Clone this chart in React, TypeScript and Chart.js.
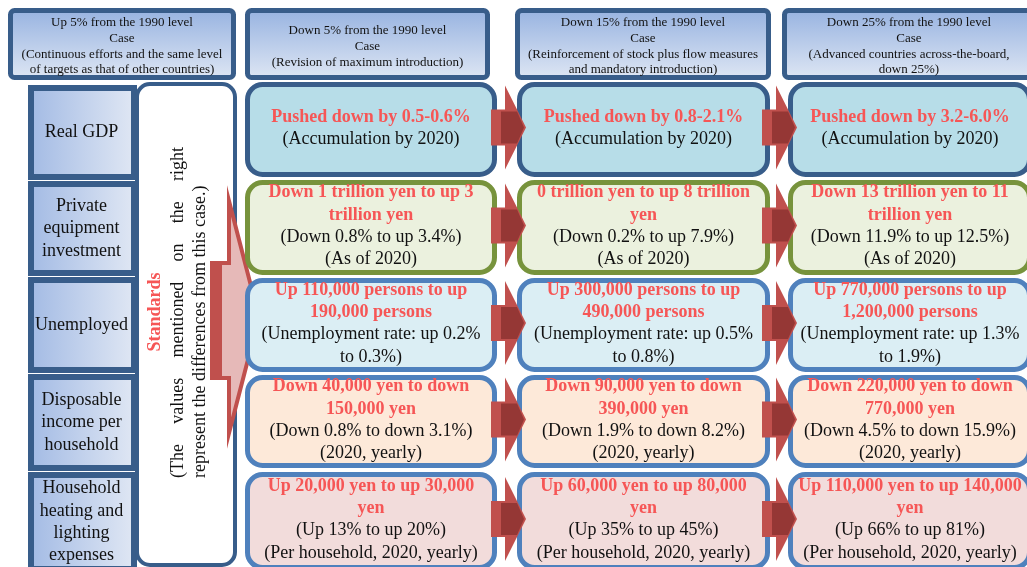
import React, { useEffect, useRef } from "react";
import { Chart, registerables } from "chart.js";

Chart.register(...registerables);

// ---- content ----
const headerTexts: string[][] = [
  ["Up 5% from the 1990 level", "Case", "(Continuous efforts and the same level", "of targets as that of other countries)"],
  ["Down 5% from the 1990 level", "Case", "(Revision of maximum introduction)"],
  ["Down 15% from the 1990 level", "Case", "(Reinforcement of stock plus flow measures", "and mandatory introduction)"],
  ["Down 25% from the 1990 level", "Case", "(Advanced countries across-the-board,", "down 25%)"],
];

const rowLabels: string[][] = [
  ["Real GDP"],
  ["Private", "equipment", "investment"],
  ["Unemployed"],
  ["Disposable", "income per", "household"],
  ["Household", "heating and", "lighting", "expenses"],
];

const standardsTitle = "Standards";
const standardsLine2 = ["(The", "values", "mentioned", "on", "the", "right"];
const standardsLine3 = "represent the differences from this case.)";

// red (bold) lines per row, per case column
const redTexts: string[][][] = [
  [["Pushed down by 0.5-0.6%"], ["Pushed down by 0.8-2.1%"], ["Pushed down by 3.2-6.0%"]],
  [["Down 1 trillion yen to up 3", "trillion yen"], ["0 trillion yen to up 8 trillion", "yen"], ["Down 13 trillion yen to 11", "trillion yen"]],
  [["Up 110,000 persons to up", "190,000 persons"], ["Up 300,000 persons to up", "490,000 persons"], ["Up 770,000 persons to up", "1,200,000 persons"]],
  [["Down 40,000 yen to down", "150,000 yen"], ["Down 90,000 yen to down", "390,000 yen"], ["Down 220,000 yen to down", "770,000 yen"]],
  [["Up 20,000 yen to up 30,000", "yen"], ["Up 60,000 yen to up 80,000", "yen"], ["Up 110,000 yen to up 140,000", "yen"]],
];

// black lines per row, per case column
const blackTexts: string[][][] = [
  [["(Accumulation by 2020)"], ["(Accumulation by 2020)"], ["(Accumulation by 2020)"]],
  [["(Down 0.8% to up 3.4%)", "(As of 2020)"], ["(Down 0.2% to up 7.9%)", "(As of 2020)"], ["(Down 11.9% to up 12.5%)", "(As of 2020)"]],
  [["(Unemployment rate: up 0.2%", "to 0.3%)"], ["(Unemployment rate: up 0.5%", "to 0.8%)"], ["(Unemployment rate: up 1.3%", "to 1.9%)"]],
  [["(Down 0.8% to down 3.1%)", "(2020, yearly)"], ["(Down 1.9% to down 8.2%)", "(2020, yearly)"], ["(Down 4.5% to down 15.9%)", "(2020, yearly)"]],
  [["(Up 13% to up 20%)", "(Per household, 2020, yearly)"], ["(Up 35% to up 45%)", "(Per household, 2020, yearly)"], ["(Up 66% to up 81%)", "(Per household, 2020, yearly)"]],
];

// ---- layout (in scale units) ----
const headerX: number[][] = [[8, 236], [245, 490], [515, 771], [782, 1036]];
const headerY = [8, 80];
const labelX = [28, 137];
const labelRowsY: number[][] = [[85, 180], [181, 276], [277, 373], [374, 471], [472, 572]];
const resultColsX: number[][] = [[245, 497], [517, 770], [788, 1032]];
const resultRowsY: number[][] = [[82, 177], [180, 275], [278, 372], [375, 468], [472, 570]];
const rowFills = ["#b7dde8", "#ebf1de", "#dbeef4", "#fde9d9", "#f2dcdb"];
const rowBorders = ["#385d8a", "#77933c", "#4f81bd", "#4f81bd", "#4f81bd"];
const arrowLeftX = [491, 762];

const SERIF = '"Liberation Serif", "Times New Roman", serif';
const RED = "#f65656";
const DARK = "#385d8a";

function rr(ctx: CanvasRenderingContext2D, x: number, y: number, w: number, h: number, r: number) {
  ctx.beginPath();
  ctx.moveTo(x + r, y);
  ctx.lineTo(x + w - r, y);
  ctx.arcTo(x + w, y, x + w, y + r, r);
  ctx.lineTo(x + w, y + h - r);
  ctx.arcTo(x + w, y + h, x + w - r, y + h, r);
  ctx.lineTo(x + r, y + h);
  ctx.arcTo(x, y + h, x, y + h - r, r);
  ctx.lineTo(x, y + r);
  ctx.arcTo(x, y, x + r, y, r);
  ctx.closePath();
}

const diagramPlugin = {
  id: "diagram",
  afterDraw(chart: any) {
    const ctx: CanvasRenderingContext2D = chart.ctx;
    const xs = chart.scales.x;
    const ys = chart.scales.y;
    const X = (v: number) => xs.getPixelForValue(v);
    const Y = (v: number) => ys.getPixelForValue(v);
    ctx.save();

    // headers
    headerX.forEach((hx, i) => {
      const x0 = X(hx[0]), x1 = X(hx[1]), y0 = Y(headerY[0]), y1 = Y(headerY[1]);
      const g = ctx.createLinearGradient(0, y0, 0, y1);
      g.addColorStop(0, "#96b2e0");
      g.addColorStop(1, "#dfe7f4");
      rr(ctx, x0 + 2.5, y0 + 2.5, x1 - x0 - 5, y1 - y0 - 5, 4);
      ctx.fillStyle = g;
      ctx.fill();
      ctx.lineWidth = 5;
      ctx.strokeStyle = DARK;
      ctx.stroke();
      const lines = headerTexts[i];
      const cx = (x0 + x1) / 2;
      const cy = Y(46.5);
      const lh = 15.7;
      ctx.fillStyle = "#111";
      ctx.font = `13px ${SERIF}`;
      ctx.textAlign = "center";
      ctx.textBaseline = "middle";
      lines.forEach((t, k) => {
        ctx.fillText(t, cx, cy + (k - (lines.length - 1) / 2) * lh);
      });
    });

    // row labels
    labelRowsY.forEach((ry, i) => {
      const x0 = X(labelX[0]), x1 = X(labelX[1]), y0 = Y(ry[0]), y1 = Y(ry[1]);
      const g = ctx.createLinearGradient(x0, 0, x1, 0);
      g.addColorStop(0, "#a2bae4");
      g.addColorStop(1, "#e1e8f4");
      ctx.fillStyle = g;
      ctx.fillRect(x0 + 3, y0 + 3, x1 - x0 - 6, y1 - y0 - 6);
      ctx.lineWidth = 6;
      ctx.strokeStyle = DARK;
      ctx.strokeRect(x0 + 3, y0 + 3, x1 - x0 - 6, y1 - y0 - 6);
      const lines = rowLabels[i];
      const cx = (x0 + x1) / 2 - 1;
      const cy = (y0 + y1) / 2;
      ctx.fillStyle = "#111";
      ctx.font = `18px ${SERIF}`;
      ctx.textAlign = "center";
      ctx.textBaseline = "middle";
      lines.forEach((t, k) => {
        ctx.fillText(t, cx, cy + (k - (lines.length - 1) / 2) * 22.3);
      });
    });

    // standards box
    {
      const x0 = X(135), x1 = X(237), y0 = Y(82), y1 = Y(567);
      rr(ctx, x0 + 2, y0 + 2, x1 - x0 - 4, y1 - y0 - 4, 13);
      ctx.fillStyle = "#ffffff";
      ctx.fill();
      ctx.lineWidth = 4;
      ctx.strokeStyle = DARK;
      ctx.stroke();
    }

    // big arrow
    {
      ctx.beginPath();
      ctx.moveTo(X(212), Y(263));
      ctx.lineTo(X(229), Y(263));
      ctx.lineTo(X(229), Y(201));
      ctx.lineTo(X(259), Y(317));
      ctx.lineTo(X(229), Y(433));
      ctx.lineTo(X(229), Y(378));
      ctx.lineTo(X(212), Y(378));
      ctx.closePath();
      ctx.fillStyle = "#e6b9b8";
      ctx.fill();
      ctx.lineWidth = 4;
      ctx.lineJoin = "miter";
      ctx.strokeStyle = "#c0504d";
      ctx.stroke();
      ctx.fillStyle = "#c0504d";
      ctx.fillRect(X(212), Y(263), X(222) - X(212), Y(378) - Y(263));
    }

    // standards text (rotated)
    {
      const cx = X(155), cy = Y(312);
      ctx.save();
      ctx.translate(cx, cy);
      ctx.rotate(-Math.PI / 2);
      ctx.textBaseline = "middle";
      ctx.textAlign = "center";
      ctx.fillStyle = RED;
      ctx.font = `bold 18px ${SERIF}`;
      ctx.fillText(standardsTitle, 0, 0);
      ctx.fillStyle = "#111";
      ctx.font = `18px ${SERIF}`;
      const left = -(Y(478) - cy);
      const right = cy - Y(147);
      const widths = standardsLine2.map((w) => ctx.measureText(w).width);
      const total = widths.reduce((a, b) => a + b, 0);
      const gap = (right - left - total) / (standardsLine2.length - 1);
      let px = left;
      ctx.textAlign = "left";
      standardsLine2.forEach((w, k) => {
        ctx.fillText(w, px, X(178) - cx);
        px += widths[k] + gap;
      });
      ctx.fillText(standardsLine3, left, X(200) - cx);
      ctx.restore();
    }

    // result boxes
    resultRowsY.forEach((ry, r) => {
      resultColsX.forEach((cxr, c) => {
        const x0 = X(cxr[0]), x1 = X(cxr[1]), y0 = Y(ry[0]), y1 = Y(ry[1]);
        rr(ctx, x0 + 2.5, y0 + 2.5, x1 - x0 - 5, y1 - y0 - 5, 15);
        ctx.fillStyle = rowFills[r];
        ctx.fill();
        ctx.lineWidth = 5;
        ctx.strokeStyle = rowBorders[r];
        ctx.stroke();
      });
    });

    // small arrows
    resultRowsY.forEach((ry) => {
      const cyv = (ry[0] + ry[1]) / 2 - 2;
      arrowLeftX.forEach((xl) => {
        ctx.beginPath();
        ctx.moveTo(X(xl), Y(cyv - 18));
        ctx.lineTo(X(xl + 14), Y(cyv - 18));
        ctx.lineTo(X(xl + 14), Y(cyv - 42));
        ctx.lineTo(X(xl + 35), Y(cyv));
        ctx.lineTo(X(xl + 14), Y(cyv + 42));
        ctx.lineTo(X(xl + 14), Y(cyv + 18));
        ctx.lineTo(X(xl), Y(cyv + 18));
        ctx.closePath();
        ctx.fillStyle = "#c0504d";
        ctx.fill();
        ctx.beginPath();
        ctx.moveTo(X(xl + 10), Y(cyv - 16));
        ctx.lineTo(X(xl + 26), Y(cyv - 16));
        ctx.lineTo(X(xl + 33), Y(cyv));
        ctx.lineTo(X(xl + 26), Y(cyv + 16));
        ctx.lineTo(X(xl + 10), Y(cyv + 16));
        ctx.closePath();
        ctx.fillStyle = "#953735";
        ctx.fill();
      });
    });

    // result texts
    resultRowsY.forEach((ry, r) => {
      resultColsX.forEach((cxr, c) => {
        const reds = redTexts[r][c];
        const blacks = blackTexts[r][c];
        const n = reds.length + blacks.length;
        const lh = 22.3;
        const cx = (X(cxr[0]) + X(cxr[1])) / 2;
        const cy = (Y(ry[0]) + Y(ry[1])) / 2 - 1.5;
        ctx.textAlign = "center";
        ctx.textBaseline = "middle";
        let k = 0;
        reds.forEach((t) => {
          ctx.fillStyle = RED;
          ctx.font = `bold 18px ${SERIF}`;
          ctx.fillText(t, cx, cy + (k - (n - 1) / 2) * lh);
          k++;
        });
        blacks.forEach((t) => {
          ctx.fillStyle = "#111";
          ctx.font = `18px ${SERIF}`;
          ctx.fillText(t, cx, cy + (k - (n - 1) / 2) * lh);
          k++;
        });
      });
    });

    ctx.restore();
  },
};

export default function App() {
  const ref = useRef<HTMLCanvasElement | null>(null);
  useEffect(() => {
    if (!ref.current) return;
    const chart = new Chart(ref.current, {
      type: "scatter",
      data: { datasets: [{ data: [] }] },
      options: {
        responsive: false,
        animation: false,
        devicePixelRatio: 1,
        layout: { padding: 0 },
        plugins: { legend: { display: false }, tooltip: { enabled: false } },
        scales: {
          x: { type: "linear", min: 0, max: 1027, display: false },
          y: { type: "linear", min: 0, max: 567, reverse: true, display: false },
        },
      },
      plugins: [diagramPlugin],
    } as any);
    return () => chart.destroy();
  }, []);
  return (
    <div style={{ position: "fixed", left: 0, top: 0, width: 1027, height: 567, background: "#fff" }}>
      <canvas ref={ref} width={1027} height={567} style={{ display: "block", width: 1027, height: 567 }} />
    </div>
  );
}
